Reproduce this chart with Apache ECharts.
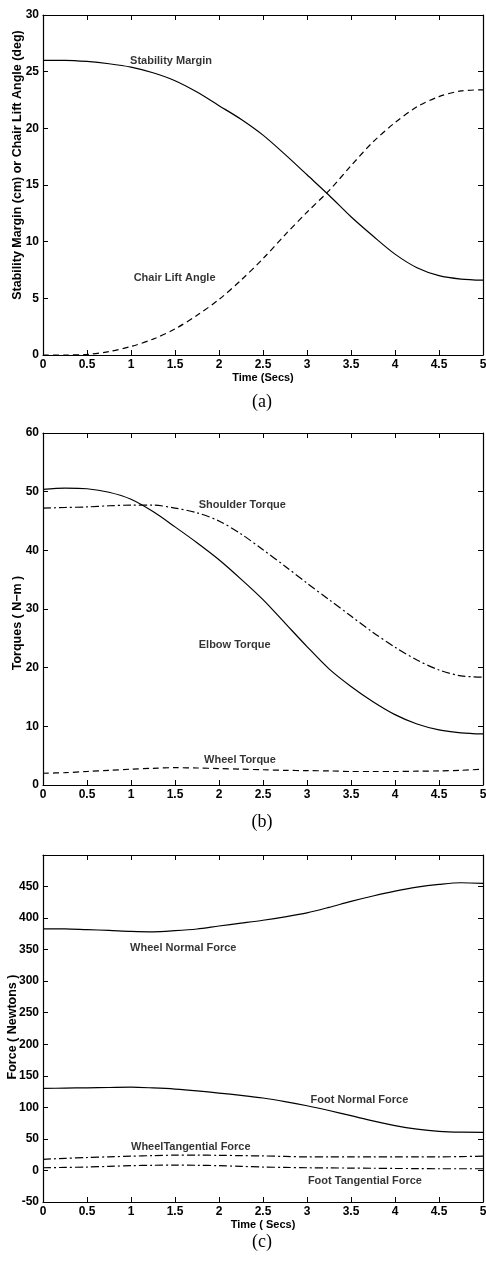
<!DOCTYPE html>
<html>
<head>
<meta charset="utf-8">
<script src="https://cdn.jsdelivr.net/npm/echarts@6/dist/echarts.min.js"></script>
<style>
  html, body { margin: 0; padding: 0; background: #fff; }
  #main { width: 486px; height: 1261px; }
</style>
</head>
<body>
<div id="main"></div>
<script>
// time samples (secs)
const time = [0, 0.25, 0.5, 0.75, 1, 1.25, 1.5, 1.75, 2, 2.25, 2.5, 2.75, 3, 3.25, 3.5, 3.75, 4, 4.25, 4.5, 4.75, 5];

// (a) stability margin / chair lift angle
const stabilityMargin = [26.0, 26.0, 25.9, 25.7, 25.4, 24.9, 24.2, 23.2, 22.0, 20.8, 19.4, 17.7, 15.9, 14.1, 12.2, 10.5, 8.9, 7.7, 7.0, 6.7, 6.6];
const chairLiftAngle = [0, 0, 0.05, 0.3, 0.75, 1.4, 2.3, 3.5, 4.9, 6.6, 8.5, 10.6, 12.6, 14.5, 16.7, 18.8, 20.5, 21.9, 22.8, 23.3, 23.4];

// (b) torques
const elbowTorque = [50.4, 50.6, 50.5, 49.9, 48.7, 46.6, 44.0, 41.3, 38.4, 35.1, 31.6, 27.6, 23.6, 19.8, 16.8, 14.2, 12.0, 10.4, 9.4, 8.9, 8.7];
const shoulderTorque = [47.2, 47.3, 47.4, 47.6, 47.7, 47.7, 47.2, 46.4, 45.0, 42.8, 40.1, 37.3, 34.4, 31.6, 28.8, 26.0, 23.5, 21.3, 19.6, 18.6, 18.4];
const wheelTorque = [2.0, 2.1, 2.3, 2.5, 2.7, 2.85, 2.95, 2.9, 2.8, 2.7, 2.6, 2.5, 2.45, 2.4, 2.3, 2.3, 2.3, 2.35, 2.4, 2.5, 2.7];

// (c) forces
const wheelNormal = [383, 383, 381.7, 380.5, 379, 378.3, 380, 382.7, 387.5, 392, 396.6, 402, 408.3, 417, 426.5, 435, 442.7, 449, 453.3, 456, 455];
const footNormal = [130, 130.5, 131, 131.5, 132, 130.8, 129, 126.2, 122.7, 119, 114.8, 109.2, 102.6, 95, 86.8, 78.5, 71, 65.5, 62, 60.7, 60.5];
const wheelTangential = [17.7, 19.2, 20.5, 21.6, 22.6, 23.5, 24.2, 24.2, 24, 23.5, 23, 22.2, 21.5, 21.5, 21.5, 21.5, 21.5, 21.5, 21.5, 22, 22.6];
const footTangential = [4.3, 4.8, 5.4, 6.5, 7.6, 8.2, 8.6, 8.2, 7.6, 6.5, 5.4, 4.8, 4.3, 4.0, 3.8, 3.5, 3.2, 3.0, 2.7, 2.7, 2.7];

// text annotations: [time, value, text]
const notesA = [[0.99, 25.9, 'Stability Margin'], [1.03, 6.8, 'Chair Lift Angle']];
const notesB = [[1.77, 47.8, 'Shoulder Torque'], [1.77, 23.9, 'Elbow Torque'], [1.83, 4.3, 'Wheel Torque']];
const notesC = [[0.99, 353, 'Wheel Normal Force'], [3.04, 111, 'Foot Normal Force'], [1.0, 37, 'WheelTangential Force'], [3.01, -17, 'Foot Tangential Force']];

const yNames = ['Stability Margin (cm) or Chair Lift Angle (deg)', 'Torques ( N\u2212m )', 'Force ( Newtons )'];
const xNames = ['Time (Secs)', '', 'Time ( Secs)'];
const captions = ['(a)', '(b)', '(c)'];

const xTicks = { min: 0, max: 5, interval: 0.5 };
const yRanges = [
  { min: 0, max: 30, interval: 5 },
  { min: 0, max: 60, interval: 10 },
  { min: -50, max: 500, interval: 50 }
];

const pair = (ys) => time.map((t, i) => [t, ys[i]]);
const SANS = 'Liberation Sans, Arial, Helvetica, sans-serif';
const tickFont = { fontFamily: SANS, fontWeight: 'bold', fontSize: 12, color: '#000' };
const frame = { show: true, onZero: false, lineStyle: { color: '#000', width: 1.2 } };
const ticks = { show: true, inside: true, length: 5, lineStyle: { color: '#000' } };

const grids = [
  { left: 43, right: 3, top: 15, height: 340, outerBoundsMode: 'none', containLabel: false },
  { left: 43, right: 3, top: 433, height: 352, outerBoundsMode: 'none', containLabel: false },
  { left: 43, right: 3, top: 855, height: 347, outerBoundsMode: 'none', containLabel: false }
];

const xAxis = [];
const yAxis = [];
grids.forEach((g, i) => {
  xAxis.push({
    type: 'value', gridIndex: i, position: 'bottom', ...xTicks,
    name: xNames[i], nameLocation: 'middle', nameGap: 17,
    nameTextStyle: { fontFamily: SANS, fontWeight: 'bold', fontSize: 11, color: '#000' },
    axisLine: frame, axisTick: ticks, splitLine: { show: false },
    axisLabel: { ...tickFont, margin: 4 }
  });
  xAxis.push({
    type: 'value', gridIndex: i, position: 'top', ...xTicks,
    axisLine: frame, axisTick: ticks, splitLine: { show: false },
    axisLabel: { show: false }
  });
  const r = yRanges[i];
  yAxis.push({
    type: 'value', gridIndex: i, position: 'left', min: r.min, max: r.max, interval: r.interval,
    axisLine: frame, axisTick: ticks, splitLine: { show: false },
    axisLabel: { ...tickFont, margin: 4, showMaxLabel: i !== 2 }
  });
  yAxis.push({
    type: 'value', gridIndex: i, position: 'right', min: r.min, max: r.max, interval: r.interval,
    axisLine: frame, axisTick: ticks, splitLine: { show: false },
    axisLabel: { show: false }
  });
});

const SOLID = 'solid';
const DASH = [6, 4];
const DASHDOT = [8, 3, 2, 3];

function line(name, ys, grid, type) {
  return {
    name, type: 'line', xAxisIndex: grid * 2, yAxisIndex: grid * 2,
    data: pair(ys), showSymbol: false, smooth: 0.3, silent: true,
    lineStyle: { color: '#000', width: 1.2, type }
  };
}
function notes(list, grid) {
  return {
    type: 'scatter', xAxisIndex: grid * 2, yAxisIndex: grid * 2,
    data: list, symbolSize: 0, silent: true,
    label: {
      show: true, position: 'right', distance: 0,
      formatter: (p) => p.value[2],
      fontFamily: SANS, fontWeight: 'bold', fontSize: 11, color: '#000'
    }
  };
}

// rotated y-axis titles and (a)/(b)/(c) captions
const yNamePos = [[18, 165], [18, 623], [13, 1027]];
const captionY = [402, 822, 1242];
const graphic = [];
yNames.forEach((t, i) => {
  graphic.push({
    type: 'text', x: yNamePos[i][0], y: yNamePos[i][1], rotation: Math.PI / 2, silent: true,
    style: { text: t, font: 'bold 12.5px ' + SANS, fill: '#000', align: 'center', verticalAlign: 'middle' }
  });
});
captions.forEach((t, i) => {
  graphic.push({
    type: 'text', x: 262, y: captionY[i], silent: true,
    style: { text: t, font: '18px Liberation Serif, Times New Roman, serif', fill: '#000', align: 'center', verticalAlign: 'middle' }
  });
});

const option = {
  animation: false,
  backgroundColor: '#fff',
  graphic,
  grid: grids,
  xAxis, yAxis,
  series: [
    line('Stability Margin', stabilityMargin, 0, SOLID),
    line('Chair Lift Angle', chairLiftAngle, 0, DASH),
    line('Elbow Torque', elbowTorque, 1, SOLID),
    line('Shoulder Torque', shoulderTorque, 1, DASHDOT),
    line('Wheel Torque', wheelTorque, 1, DASH),
    line('Wheel Normal Force', wheelNormal, 2, SOLID),
    line('Foot Normal Force', footNormal, 2, SOLID),
    line('WheelTangential Force', wheelTangential, 2, DASHDOT),
    line('Foot Tangential Force', footTangential, 2, DASHDOT),
    notes(notesA, 0),
    notes(notesB, 1),
    notes(notesC, 2)
  ]
};

const chart = echarts.init(document.getElementById('main'));
chart.setOption(option);
</script>
</body>
</html>
